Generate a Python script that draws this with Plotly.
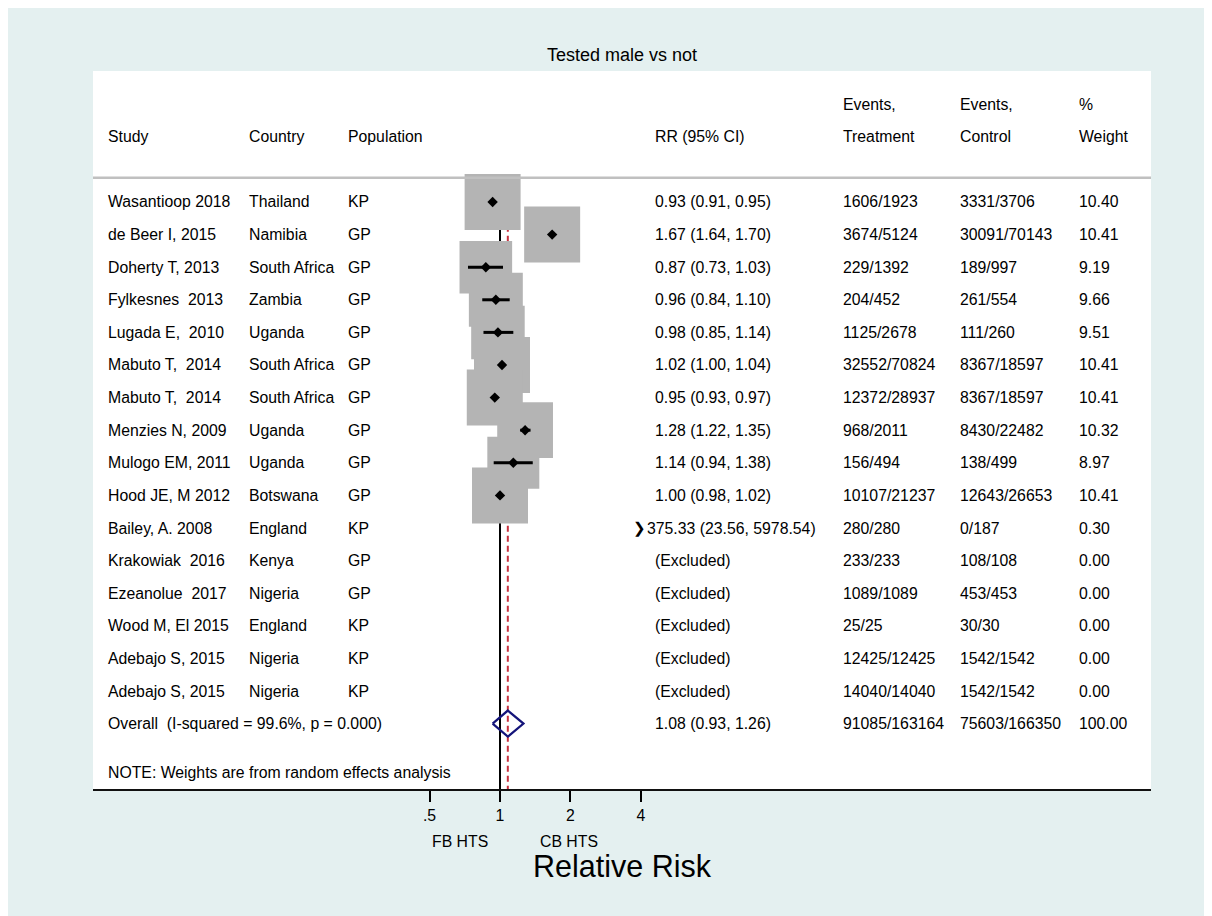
import math
import plotly.graph_objects as go

NB = "\u00a0"
title_text = "Tested male vs not"
studies = ["Wasantioop 2018", "de Beer I, 2015", "Doherty T, 2013", "Fylkesnes " + NB + "2013",
           "Lugada E, " + NB + "2010", "Mabuto T, " + NB + "2014", "Mabuto T, " + NB + "2014",
           "Menzies N, 2009", "Mulogo EM, 2011", "Hood JE, M 2012", "Bailey, A. 2008",
           "Krakowiak " + NB + "2016", "Ezeanolue " + NB + "2017", "Wood M, El 2015",
           "Adebajo S, 2015", "Adebajo S, 2015"]
countries = ["Thailand", "Namibia", "South Africa", "Zambia", "Uganda", "South Africa",
             "South Africa", "Uganda", "Uganda", "Botswana", "England", "Kenya", "Nigeria",
             "England", "Nigeria", "Nigeria"]
population = ["KP", "GP", "GP", "GP", "GP", "GP", "GP", "GP", "GP", "GP", "KP", "GP", "GP",
              "KP", "KP", "KP"]
rr = [0.93, 1.67, 0.87, 0.96, 0.98, 1.02, 0.95, 1.28, 1.14, 1.00, 375.33,
      None, None, None, None, None]
rr_lo = [0.91, 1.64, 0.73, 0.84, 0.85, 1.00, 0.93, 1.22, 0.94, 0.98, 23.56,
         None, None, None, None, None]
rr_hi = [0.95, 1.70, 1.03, 1.10, 1.14, 1.04, 0.97, 1.35, 1.38, 1.02, 5978.54,
         None, None, None, None, None]
events_treat = ["1606/1923", "3674/5124", "229/1392", "204/452", "1125/2678", "32552/70824",
                "12372/28937", "968/2011", "156/494", "10107/21237", "280/280", "233/233",
                "1089/1089", "25/25", "12425/12425", "14040/14040"]
events_ctrl = ["3331/3706", "30091/70143", "189/997", "261/554", "111/260", "8367/18597",
               "8367/18597", "8430/22482", "138/499", "12643/26653", "0/187", "108/108",
               "453/453", "30/30", "1542/1542", "1542/1542"]
weights = [10.40, 10.41, 9.19, 9.66, 9.51, 10.41, 10.41, 10.32, 8.97, 10.41, 0.30,
           0.00, 0.00, 0.00, 0.00, 0.00]
overall_label = "Overall " + NB + "(I-squared = 99.6%, p = 0.000)"
overall_rr, overall_lo, overall_hi = 1.08, 0.93, 1.26
overall_treat, overall_ctrl, overall_w = "91085/163164", "75603/166350", 100.00
note_text = "NOTE: Weights are from random effects analysis"
tick_vals = [0.5, 1, 2, 4]
tick_text = [".5", "1", "2", "4"]
header1 = ["Events,", "Events,", "%"]
header2 = ["Study", "Country", "Population", "RR (95% CI)", "Treatment", "Control", "Weight"]

# ---- layout constants (figure pixel coordinates) ----
W, H = 1204, 908
ML, MR, MT, MB = 85, 61, 63, 127
PW, PH = W - ML - MR, H - MT - MB
AXIS_Y = H - MB
FONT = "Liberation Sans, Arial, Helvetica, sans-serif"
FS = 15.8
BG = "#e4f0f0"

def px2paper(px):
    return (px - ML) / PW

def py2paper(py):
    return (H - MB - py) / PH

n = len(studies)
rows = list(range(n))
overall_row = n
note_row = n + 1.5
Y_TOP, Y_BOT = -4.018, 18.006

fig = go.Figure()

# reference lines
fig.add_trace(go.Scatter(x=[1, 1], y=[-0.5, Y_BOT], mode="lines",
                         line=dict(color="black", width=2), hoverinfo="skip", showlegend=False))
fig.add_trace(go.Scatter(x=[overall_rr, overall_rr], y=[-0.5, Y_BOT], mode="lines",
                         line=dict(color="#c8323f", width=2, dash="6px,4px"),
                         hoverinfo="skip", showlegend=False))

scale_max = max(tick_vals)
vis = [i for i in rows if rr[i] is not None and rr_lo[i] <= scale_max]
off = [i for i in rows if rr[i] is not None and rr_lo[i] > scale_max]

# weight boxes
fig.add_trace(go.Scatter(
    x=[rr[i] for i in vis], y=[i for i in vis], mode="markers",
    marker=dict(symbol="square", color="#b4b4b4", opacity=1,
                size=[56 * math.sqrt(weights[i] / 10.41) for i in vis], line=dict(width=0)),
    hoverinfo="skip", showlegend=False))

# CI lines
cx, cy = [], []
for i in vis:
    cx += [rr_lo[i], rr_hi[i], None]
    cy += [i, i, None]
fig.add_trace(go.Scatter(x=cx, y=cy, mode="lines", line=dict(color="black", width=3),
                         hoverinfo="skip", showlegend=False))

# point estimates
fig.add_trace(go.Scatter(x=[rr[i] for i in vis], y=[i for i in vis], mode="markers",
                         marker=dict(symbol="diamond", color="black", size=8, opacity=1),
                         hoverinfo="skip", showlegend=False))

# overall diamond
fig.add_trace(go.Scatter(
    x=[overall_lo, overall_rr, overall_hi, overall_rr, overall_lo],
    y=[overall_row, overall_row - 0.4, overall_row, overall_row + 0.4, overall_row],
    mode="lines", line=dict(color="#14147a", width=2.2), hoverinfo="skip", showlegend=False))

ann = []

# off-scale arrows at the right end of the CI scale
for i in off:
    ann.append(dict(x=math.log10(scale_max), xref="x", y=i, yref="y", text="\u276f",
                    showarrow=False, xanchor="right", yanchor="middle", xshift=7,
                    font=dict(family="DejaVu Sans", size=15, color="black")))

# ---- text columns ----
col_px = [98, 239, 338, 645, 833, 950, 1069]

def add_text(px, row, text, size=FS, anchor="left", shift=0):
    ann.append(dict(x=px2paper(px), xref="paper", y=row, yref="y", text=text,
                    showarrow=False, xanchor=anchor, yanchor="middle", xshift=shift,
                    font=dict(family=FONT, size=size, color="black")))

def fmt_rr(i):
    if rr[i] is None:
        return "(Excluded)"
    return f"{rr[i]:.2f} ({rr_lo[i]:.2f}, {rr_hi[i]:.2f})"

for i in rows:
    add_text(col_px[0], i, studies[i])
    add_text(col_px[1], i, countries[i])
    add_text(col_px[2], i, population[i])
    add_text(col_px[3], i, fmt_rr(i), shift=(-8 if i in off else 0))
    add_text(col_px[4], i, events_treat[i])
    add_text(col_px[5], i, events_ctrl[i])
    add_text(col_px[6], i, f"{weights[i]:.2f}")

add_text(col_px[0], overall_row, overall_label)
add_text(col_px[3], overall_row, f"{overall_rr:.2f} ({overall_lo:.2f}, {overall_hi:.2f})")
add_text(col_px[4], overall_row, overall_treat)
add_text(col_px[5], overall_row, overall_ctrl)
add_text(col_px[6], overall_row, f"{overall_w:.2f}")
add_text(col_px[0], note_row, note_text)

for j, t in enumerate(header2):
    add_text(col_px[j], -2, t)
for j, t in enumerate(header1):
    add_text(col_px[4 + j], -3, t)

# below-axis labels
for label, cxp in (("FB HTS", 452), ("CB HTS", 561)):
    ann.append(dict(x=px2paper(cxp), xref="paper", y=py2paper(AXIS_Y + 52), yref="paper",
                    text=label, showarrow=False, xanchor="center", yanchor="middle",
                    font=dict(family=FONT, size=FS, color="black")))
ann.append(dict(x=0.5, xref="paper", y=py2paper(AXIS_Y + 77), yref="paper",
                text="Relative Risk", showarrow=False, xanchor="center", yanchor="middle",
                font=dict(family=FONT, size=30.5, color="black")))

shapes = [
    dict(type="line", xref="paper", yref="y", x0=0, x1=1, y0=-0.74, y1=-0.74,
         line=dict(color="#c0c0c0", width=2.5)),
]

fig.update_layout(
    width=W, height=H,
    margin=dict(l=ML, r=MR, t=MT, b=MB, pad=0),
    paper_bgcolor=BG, plot_bgcolor="white",
    title=dict(text=title_text, x=0.5, xref="paper", xanchor="center",
               y=1 - 47 / H, yref="container", yanchor="middle",
               font=dict(family=FONT, size=18, color="black")),
    font=dict(family=FONT, size=FS, color="black"),
    xaxis=dict(type="log", range=[-1.738, 2.780], tickvals=tick_vals, ticktext=tick_text,
               ticks="outside", ticklen=11, tickwidth=2, tickcolor="black",
               showline=True, linecolor="#111111", linewidth=2, showgrid=False,
               zeroline=False, tickfont=dict(family=FONT, size=FS, color="black"),
               fixedrange=True),
    yaxis=dict(range=[Y_BOT, Y_TOP], visible=False, showgrid=False, zeroline=False,
               fixedrange=True),
    annotations=ann, shapes=shapes, showlegend=False,
)

fig.write_html("out.html")
